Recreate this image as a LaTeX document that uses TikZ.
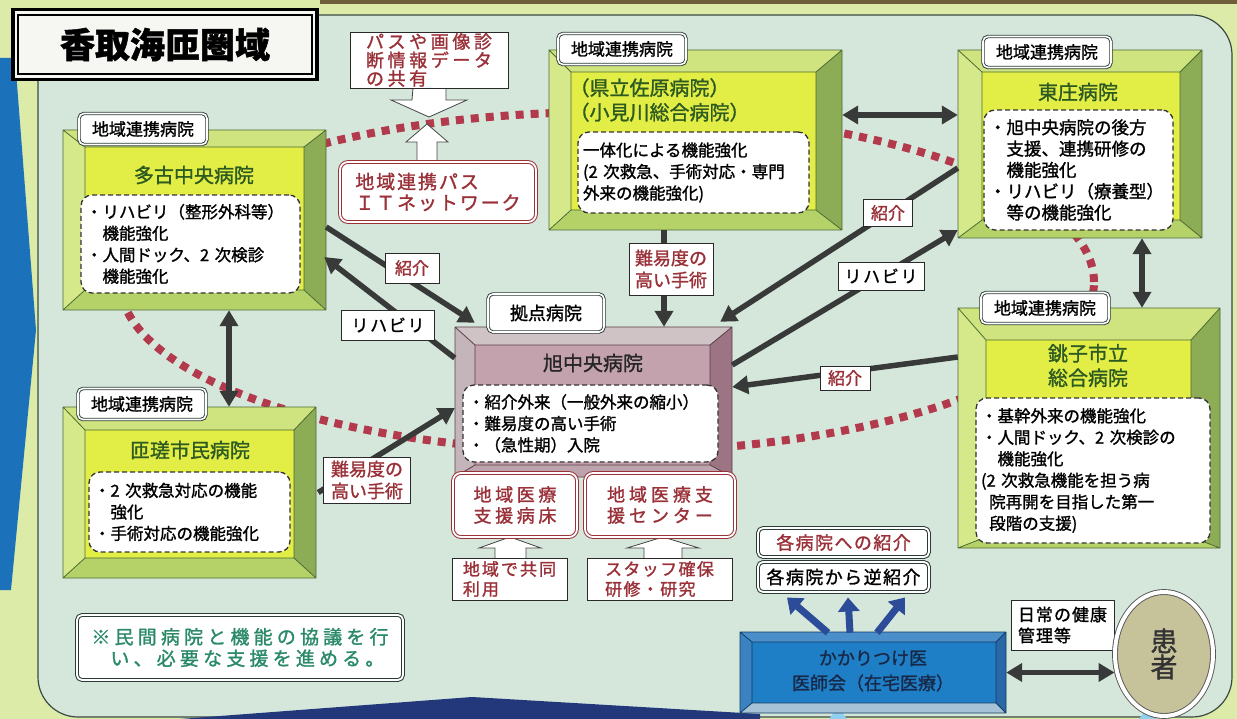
\documentclass[tikz,border=0pt]{standalone}
\usepackage{fontspec}
\setmainfont{Noto Sans CJK JP}[FakeBold=1.3]
\usetikzlibrary{arrows.meta,fit,calc,shapes.geometric}
\definecolor{pagebg}{HTML}{DCEBA8}
\definecolor{leftblue}{HTML}{1C72BA}
\definecolor{topstrip}{HTML}{6E5E3A}
\definecolor{regionbg}{HTML}{D5E7DB}
\definecolor{regionln}{HTML}{3A4A42}
\definecolor{navyb}{HTML}{22387A}
\definecolor{tipblue}{HTML}{8FD0EE}
\definecolor{dotred}{HTML}{B23A4C}
\definecolor{arrc}{HTML}{383A3A}
\definecolor{barrc}{HTML}{2C4C9A}
\definecolor{dkred}{HTML}{9A3038}
\definecolor{ttlgreen}{HTML}{2D5A20}
\definecolor{notegreen}{HTML}{2A8A68}
\definecolor{khaki}{HTML}{C6C29A}
\definecolor{kanjaln}{HTML}{555555}
\definecolor{tagc}{HTML}{2A3A36}
\definecolor{dashc}{HTML}{333333}
\definecolor{lblc}{HTML}{2A2A2A}
\definecolor{hollc}{HTML}{444444}
\definecolor{titlebg}{HTML}{F6F7F2}
\definecolor{kakaritext}{HTML}{182848}
\definecolor{gT}{HTML}{CFE47E}\definecolor{gL}{HTML}{D5E98A}\definecolor{gR}{HTML}{8DAC56}
\definecolor{gB}{HTML}{B4D268}\definecolor{gI}{HTML}{E2EE46}\definecolor{gD}{HTML}{4E6A34}
\definecolor{hT}{HTML}{D0C3C6}\definecolor{hL}{HTML}{C3B5B9}\definecolor{hR}{HTML}{9C7484}
\definecolor{hB}{HTML}{BDA4AC}\definecolor{hI}{HTML}{C4A2AD}\definecolor{hD}{HTML}{5A4048}
\definecolor{bT}{HTML}{4A8ECA}\definecolor{bL}{HTML}{3A82C2}\definecolor{bR}{HTML}{2868A6}
\definecolor{bB}{HTML}{A6C2D6}\definecolor{bI}{HTML}{1F7FC6}\definecolor{bD}{HTML}{123A60}

\newcommand\bvset[1]{\colorlet{bvT}{#1T}\colorlet{bvL}{#1L}\colorlet{bvR}{#1R}\colorlet{bvB}{#1B}\colorlet{bvI}{#1I}\colorlet{bvD}{#1D}}
\newcommand\bevelbox[9]{%
  \fill[bvT] (#2,#3)--(#4,#3)--(#8,#7)--(#6,#7)--cycle;
  \fill[bvL] (#2,#3)--(#6,#7)--(#6,#9)--(#2,#5)--cycle;
  \fill[bvR] (#4,#3)--(#4,#5)--(#8,#9)--(#8,#7)--cycle;
  \fill[bvB] (#2,#5)--(#6,#9)--(#8,#9)--(#4,#5)--cycle;
  \fill[bvI] (#6,#7) rectangle (#8,#9);
  \draw[bvD,line width=0.8pt,line join=round] (#2,#3) rectangle (#4,#5) (#6,#7) rectangle (#8,#9) (#2,#3)--(#6,#7) (#4,#3)--(#8,#7) (#2,#5)--(#6,#9) (#4,#5)--(#8,#9);
  \node[fit={(#2,#3)(#4,#5)},inner sep=0pt] (#1) {};
}
\newcommand\lsp[1]{\addfontfeature{LetterSpace=#1}}

\tikzset{
 tag/.style={draw=tagc, line width=0.9pt, double=white, double distance=1.6pt, fill=white, rounded corners=5pt, inner sep=0pt, minimum height=31pt, minimum width=128pt, font=\fontsize{17}{19}\selectfont},
 dbox/.style={draw=dashc, fill=white, dash pattern=on 5pt off 3pt, line width=1.3pt, rounded corners=11pt, inner xsep=5pt, inner ysep=0pt, align=left, font=\fontsize{16.5}{21.5}\selectfont},
 htitle/.style={text=ttlgreen, font=\fontsize{20}{24.5}\selectfont, align=center},
 lbl/.style={draw=lblc, fill=white, line width=0.9pt, inner sep=2pt, align=center, font=\fontsize{17}{22}\selectfont},
 plain/.style={draw=lblc, fill=white, line width=0.9pt, inner sep=0pt, align=left},
 redbox/.style={draw=dkred, line width=1pt, double=white, double distance=1.8pt, fill=white, rounded corners=8pt, inner sep=0pt, text=dkred, align=left},
 grnbox/.style={draw=tagc, line width=1pt, double=white, double distance=1.8pt, fill=white, rounded corners=5pt, inner sep=0pt},
 arr/.style={draw=arrc, line width=5.5pt, -{Triangle[length=16pt,width=18pt]}},
 darr/.style={draw=arrc, line width=5.5pt, {Triangle[length=16pt,width=18pt]}-{Triangle[length=16pt,width=18pt]}},
 barr/.style={draw=barrc, line width=7pt, -{Triangle[length=14pt,width=21pt]}},
 hollow/.style={fill=white, draw=hollc, line width=0.8pt, line join=miter},
 dots/.style={draw=dotred, line width=8pt, dash pattern=on 8pt off 7pt},
}

\begin{document}
\begin{tikzpicture}[x=1pt,y=-1pt]
\useasboundingbox (0,0) rectangle (1237,719);
% background
\fill[pagebg] (0,0) rectangle (1237,719);
\fill[leftblue] (0,58)--(15,58)--(36,330)--(11,590)--(0,590)--cycle;
\fill[topstrip] (320,0) rectangle (1237,4);
\filldraw[fill=regionbg, draw=regionln, line width=1.2pt, rounded corners=40pt] (38,15) rectangle (1232,717);
\fill[navyb] (180,719)--(472,697)--(760,714)--(760,719)--cycle;
\fill[tipblue] (838,707)--(829,719)--(847,719)--cycle;
\fill[tipblue] (1148,707)--(1139,719)--(1157,719)--cycle;
% dotted network loop
\draw[dots] (607,282) ellipse [x radius=487pt, y radius=170pt];

% title
\node[draw=black, line width=3.5pt, fill=titlebg, minimum width=304pt, minimum height=70pt, inner sep=0pt] (title) at (165,44.5) {};
\draw[line width=2pt] ($(title.north west)+(7,7)$) rectangle ($(title.south east)+(-7,-7)$);
\node[font=\fontsize{35}{36}\selectfont\bfseries] (titletext) at (title.center) {香取海匝圏域};

% top info boxes
\draw[hollow] (413,88)--(446,88)--(446,100)--(467,100)--(429,117)--(391,100)--(412,100)--cycle;
\node[plain, minimum width=158pt, minimum height=56pt, text=dkred, font=\fontsize{18}{18.5}\selectfont\lsp{20}] (pas) at (429,60) {パスや画像診\\断情報データ\\の共有};
\draw[hollow] (417,162)--(417,142)--(406,142)--(427,124)--(448,142)--(437,142)--(437,162);
\node[redbox, minimum width=196pt, minimum height=60pt, font=\fontsize{19}{21}\selectfont\lsp{10}] (itnet) at (438,192) {地域連携パス\\ＩＴネットワーク};

% bevel boxes
\bvset{g}
\bevelbox{tako}{63}{130}{326}{310}{85}{147}{304}{290}
\bevelbox{sosa}{63}{407}{316}{578}{85}{430}{294}{558}
\bevelbox{ken}{549}{50}{842}{230}{571}{72}{816}{210}
\bevelbox{tosho}{958}{50}{1202}{238}{982}{72}{1180}{220}
\bevelbox{choshi}{958}{308}{1220}{548}{986}{340}{1191}{537}
\bvset{h}
\bevelbox{hub}{455}{327}{732}{477}{475}{345}{710}{465}
\bvset{b}
\bevelbox{kakari}{740}{632}{1006}{713}{752}{642}{996}{703}

% hospital titles
\node[htitle] (takoT) at (194,175) {多古中央病院};
\node[htitle] (sosaT) at (190,450) {匝瑳市民病院};
\node[htitle, anchor=west, align=left] (kenT) at (566,100) {（県立佐原病院）\\（小見川総合病院）};
\node[htitle] (toshoT) at (1078,92) {東庄病院};
\node[htitle] (choshiT) at (1088,365.5) {銚子市立\\総合病院};
\node[htitle, text=black!85] (hubT) at (593,363) {旭中央病院};
\node[align=center, text=kakaritext, font=\fontsize{18}{25}\selectfont] (kakariT) at (873,671) {かかりつけ医\\医師会（在宅医療）};

% dashed content boxes
\node[dbox, minimum width=219pt, minimum height=98pt, text width=209pt] (takoD) at (190.5,244) {・リハビリ（整形外科等）\\\hspace*{1em}機能強化\\・人間ドック、2 次検診\\\hspace*{1em}機能強化};
\node[dbox, minimum width=201pt, minimum height=80pt, text width=191pt] (sosaD) at (189.5,512) {・2 次救急対応の機能\\\hspace*{1em}強化\\・手術対応の機能強化};
\node[dbox, minimum width=231pt, minimum height=81pt, text width=221pt] (kenD) at (693.5,172.5) {一体化による機能強化\\(2 次救急、手術対応・専門\\外来の機能強化)};
\node[dbox, minimum width=189pt, minimum height=120pt, text width=179pt, font=\fontsize{17.5}{21.3}\selectfont] (toshoD) at (1078.5,170) {・旭中央病院の後方\\\hspace*{1em}支援、連携研修の\\\hspace*{1em}機能強化\\・リハビリ（療養型）\\\hspace*{1em}等の機能強化};
\node[dbox, minimum width=234pt, minimum height=145pt, text width=224pt] (choshiD) at (1093,470.5) {・基幹外来の機能強化\\・人間ドック、2 次検診の\\\hspace*{1em}機能強化\\(2 次救急機能を担う病\\\hspace*{0.5em}院再開を目指した第一\\\hspace*{0.5em}段階の支援)};
\node[dbox, minimum width=255pt, minimum height=77pt, text width=245pt] (hubD) at (590.5,423.5) {・紹介外来（一般外来の縮小）\\・難易度の高い手術\\・（急性期）入院};

% hub sub boxes
\draw[hollow] (495,558)--(495,548)--(479,548)--(510,537)--(541,548)--(526,548)--(526,558);
\draw[hollow] (644,558)--(644,548)--(627,548)--(663,537)--(699,548)--(682,548)--(682,558);
\node[redbox, minimum width=124pt, minimum height=64pt, align=center, font=\fontsize{18}{21}\selectfont\lsp{20}] (byosho) at (515,505) {地域医療\\支援病床};
\node[redbox, minimum width=150pt, minimum height=64pt, font=\fontsize{18}{21}\selectfont\lsp{22}] (center) at (660,505) {地域医療支\\援センター};
\node[plain, minimum width=115pt, minimum height=42pt, text=dkred, font=\fontsize{17}{20}\selectfont\lsp{12}] (kyodo) at (509.5,579) {地域で共同\\利用};
\node[plain, minimum width=145pt, minimum height=42pt, text=dkred, font=\fontsize{17}{20}\selectfont\lsp{8}] (staff) at (659.5,579) {スタッフ確保\\研修・研究};

% referral boxes
\node[grnbox, minimum width=171pt, minimum height=29pt, text=dkred, font=\fontsize{18}{20}\selectfont\lsp{8}] (shokai) at (843.5,542.5) {各病院への紹介};
\node[grnbox, minimum width=171pt, minimum height=30pt, font=\fontsize{18}{20}\selectfont\lsp{8}] (gyaku) at (843.5,577) {各病院から逆紹介};
\node[plain, minimum width=103pt, minimum height=50pt, font=\fontsize{17}{21}\selectfont\lsp{6}] (nichijo) at (1062.5,625) {日常の健康\\管理等};
\node[ellipse, draw=kanjaln, line width=0.9pt, double=white, double distance=4pt, fill=khaki, minimum width=98pt, minimum height=124pt, inner sep=0pt, align=center, font=\fontsize{27}{26}\selectfont, text=black!80] (kanja) at (1164,654) {患\\者};

% note
\node[grnbox, minimum width=326pt, minimum height=65pt, text=notegreen, align=left, font=\fontsize{19}{21.5}\selectfont\lsp{22}] (note) at (240,647.5) {※民間病院と機能の協議を行\\\hspace*{1em}い、必要な支援を進める。};

% connectors
\draw[arr] ($(tako.east)+(0,7)$) -- ($(hub.north west)+(20,-4)$);
\draw[arr] ($(hub.west)+(0,-44)$) -- ($(tako.east)+(-2,37)$);
\draw[arr] ($(ken.south)+(-31.5,0)$) coordinate (k1) -- (k1 |- hub.north);
\draw[arr] ($(tosho.west)+(0,24)$) -- ($(hub.north east)+(-12,-5)$);
\draw[arr] ($(hub.east)+(0,-37)$) -- ($(tosho.west)+(0,86)$);
\draw[arr] ($(choshi.west)+(0,-71)$) -- ($(hub.east)+(0,-15)$);
\draw[arr] ($(sosa.east)+(2,0)$) -- ($(hub.west)+(0,6)$);
\draw[darr] ($(tako.south)+(34.5,0)$) coordinate (ts) -- (ts |- sosa.north);
\draw[darr] ($(ken.east)+(0,-25)$) coordinate (kt) -- (tosho.west |- kt);
\draw[darr] ($(tosho.south)+(62,0)$) coordinate (tc) -- (tc |- choshi.north);
\draw[darr] (kakari.east) -- (kanja.west |- kakari.east);
\draw[barr] ($(kakari.north)+(-45,1)$) -- ($(gyaku.south)+(-56.5,5)$);
\draw[barr] ($(kakari.north)+(-23,1)$) -- ($(gyaku.south)+(4.5,5)$);
\draw[barr] ($(kakari.north)+(4,1)$) -- ($(gyaku.south)+(61.5,5)$);

% connector labels
\node[lbl, text=dkred, minimum width=54pt, minimum height=30pt] (l1) at (412,268) {紹介};
\node[lbl, minimum width=93pt, minimum height=30pt, font=\fontsize{17}{22}\selectfont\lsp{10}] (l2) at (388,325) {リハビリ};
\node[lbl, text=dkred, minimum width=84pt, minimum height=52pt, font=\fontsize{18}{22}\selectfont] (l3) at (671,269) {難易度の\\高い手術};
\node[lbl, text=dkred, minimum width=49pt, minimum height=27pt] (l4) at (888,213) {紹介};
\node[lbl, minimum width=86pt, minimum height=28pt, font=\fontsize{17}{22}\selectfont\lsp{10}] (l5) at (881,276) {リハビリ};
\node[lbl, text=dkred, minimum width=50pt, minimum height=24pt] (l6) at (845,378) {紹介};
\node[lbl, text=dkred, minimum width=87pt, minimum height=46pt, font=\fontsize{18}{22}\selectfont] (l7) at (367,480) {難易度の\\高い手術};

% tags
\node[tag] (tagTako) at (143,129) {地域連携病院};
\node[tag] (tagSosa) at (142,404) {地域連携病院};
\node[tag] (tagKen) at (622,49) {地域連携病院};
\node[tag] (tagTosho) at (1047,52) {地域連携病院};
\node[tag] (tagChoshi) at (1045,308) {地域連携病院};
\node[tag, minimum width=116pt, minimum height=38pt, font=\fontsize{18}{20}\selectfont] (tagHub) at (546,313) {拠点病院};
\end{tikzpicture}
\end{document}
